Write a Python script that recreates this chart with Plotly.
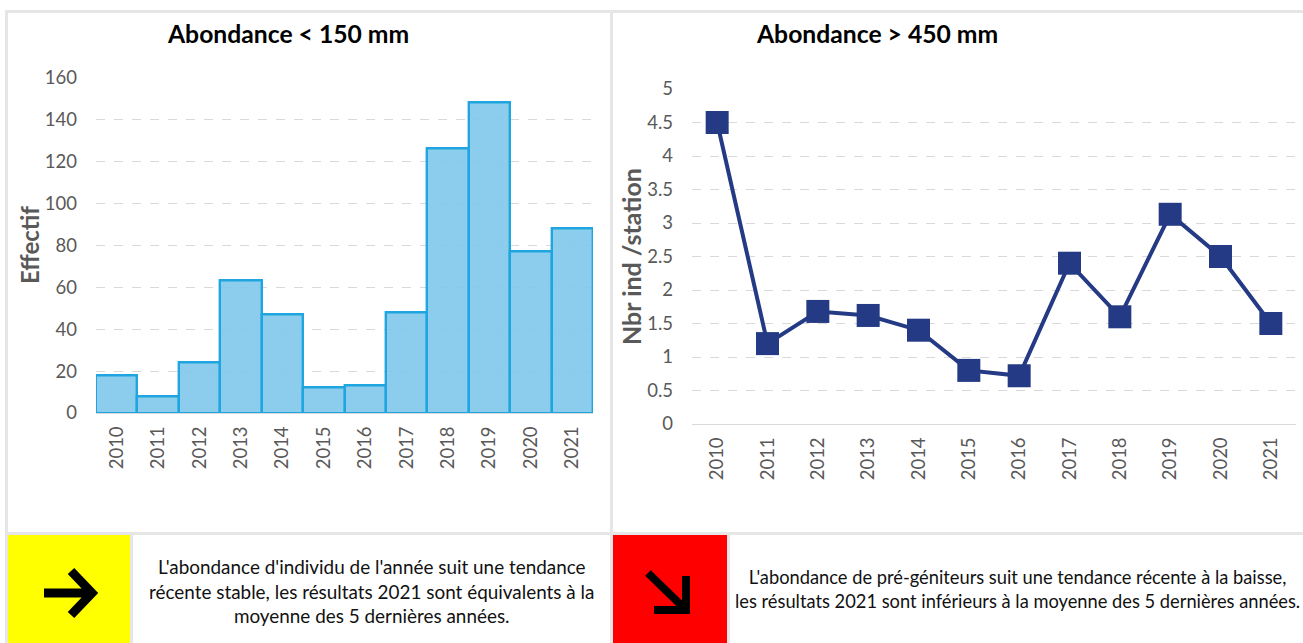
import plotly.graph_objects as go

W, H = 1303, 643
years = [str(y) for y in range(2010, 2022)]
small_counts = [18, 8, 24, 63, 47, 12, 13, 48, 126, 148, 77, 88]
large_density = [4.5, 1.2, 1.68, 1.62, 1.4, 0.8, 0.72, 2.4, 1.6, 3.13, 2.5, 1.5]
left_ticks = [0, 20, 40, 60, 80, 100, 120, 140, 160]
right_ticks = [0, 0.5, 1, 1.5, 2, 2.5, 3, 3.5, 4, 4.5, 5]
right_tick_labels = ["0", "0.5", "1", "1.5", "2", "2.5", "3", "3.5", "4", "4.5", "5"]
title_left = "Abondance < 150 mm"
title_right = "Abondance > 450 mm"
ytitle_left = "Effectif"
ytitle_right = "Nbr ind /station"
text_left = "L'abondance d'individu de l'année suit une tendance<br>récente stable, les résultats 2021 sont équivalents à la<br>moyenne des 5 dernières années."
text_right = "L'abondance de pré-géniteurs suit une tendance récente à la baisse,<br>les résultats 2021 sont inférieurs à la moyenne des 5 dernières années."

FONT = "Lato"
GREY = "#595959"
PANEL = "#E6E6E6"
px = lambda v: v / W
py = lambda v: 1 - v / H

fig = go.Figure()
fig.add_trace(go.Bar(x=years, y=small_counts, xaxis="x", yaxis="y",
                     marker=dict(color="rgba(128,200,235,0.9)", line=dict(color="#1FA5E0", width=2.4)),
                     showlegend=False))
fig.add_trace(go.Scatter(x=years, y=large_density, xaxis="x2", yaxis="y2", mode="lines+markers",
                         line=dict(color="#253A84", width=4),
                         marker=dict(symbol="square", size=23, color="#253A84"),
                         showlegend=False))

axis_font = dict(family=FONT, size=18.5, color=GREY)
xcommon = dict(type="category", tickangle=-90, tickfont=axis_font, showgrid=False, ticks="",
               range=[-0.5, 11.5], showline=True, linecolor="#D9D9D9", linewidth=1, zeroline=False,
               ticklabelstandoff=5, automargin=False)
ycommon = dict(tickfont=axis_font, showline=False, zeroline=False, ticks="", automargin=False,
               gridcolor="#D9D9D9", griddash="dash", gridwidth=1, ticklabelstandoff=18)

shapes = []
def rect(x0, y0, x1, y1, color):
    shapes.append(dict(type="rect", xref="paper", yref="paper", x0=px(x0), x1=px(x1), y0=py(y0), y1=py(y1),
                       fillcolor=color, line=dict(width=0), layer="below"))

rect(5, 10, W, 13, PANEL)
rect(5, 10, 8, H, PANEL)
rect(610, 10, 613, H, PANEL)
rect(5, 532, W, 535, PANEL)
rect(8, 535, 130, H, "#FFFF00")
rect(130, 535, 133, H, PANEL)
rect(613, 535, 727, H, "#FF0000")
rect(727, 535, 730, H, PANEL)

def arrow(points, width):
    d = ""
    for seg in points:
        d += "M" + " L".join(f"{px(a)},{py(b)}" for a, b in seg) + " "
    shapes.append(dict(type="path", xref="paper", yref="paper", path=d,
                       line=dict(color="black", width=width), layer="above"))

arrow([[(44, 593), (92, 593)], [(71, 571), (92, 593), (71, 615)]], 9)
arrow([[(648, 573), (685, 609)], [(686, 576), (686, 610), (654, 610)]], 8)

def note(x, y, text, size, color="black", bold=False, angle=0):
    return dict(x=px(x), y=py(y), xref="paper", yref="paper", text=f"<b>{text}</b>" if bold else text,
                showarrow=False, textangle=angle, align="center", xanchor="center", yanchor="middle",
                font=dict(family=FONT, size=size, color=color))

annotations = [
    note(288, 34, title_left, 24.7, bold=True),
    note(877, 34, title_right, 24.7, bold=True),
    note(30, 245, ytitle_left, 24, GREY, True, -90),
    note(631, 257, ytitle_right, 25, GREY, True, -90),
    note(371, 591, text_left, 18.9, "#111111"),
    note(1018, 589, text_right, 18.3, "#111111"),
]

fig.update_layout(
    width=W, height=H, autosize=False, margin=dict(l=0, r=0, t=0, b=0, pad=0),
    paper_bgcolor="white", plot_bgcolor="white", bargap=0,
    xaxis=dict(domain=[px(96), px(593)], anchor="y", **xcommon),
    yaxis=dict(domain=[py(413), py(77.5)], anchor="x", range=[0, 160], tickvals=left_ticks, **ycommon),
    xaxis2=dict(domain=[px(692), px(1296)], anchor="y2", **xcommon),
    yaxis2=dict(domain=[py(424), py(89)], anchor="x2", range=[0, 5], tickvals=right_ticks,
                ticktext=right_tick_labels, **ycommon),
    shapes=shapes, annotations=annotations,
)
post = "document.body.style.margin='0';document.documentElement.style.overflow='hidden';"
fig.write_html("out.html", config={"displayModeBar": False}, post_script=post)
